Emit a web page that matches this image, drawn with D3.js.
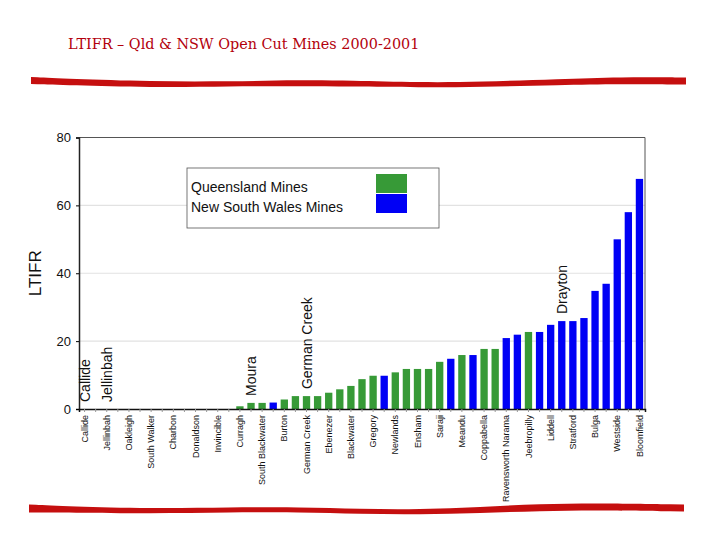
<!DOCTYPE html>
<html>
<head>
<meta charset="utf-8">
<script src="https://cdn.jsdelivr.net/npm/d3@7"></script>
<style>
  body { margin: 0; background: #fff; }
  svg { display: block; }
</style>
</head>
<body>
<script>
// LTIFR per mine, sorted low to high (51 mines, only every second one is named on the axis)
var values = [0, 0, 0, 0, 0, 0, 0, 0, 0, 0, 0, 0, 0, 0,
  0.8, 1.8, 1.8, 1.9, 2.8, 3.8, 3.8, 3.8, 4.8, 5.8, 6.8, 8.8, 9.8, 9.8,
  10.8, 11.8, 11.8, 11.8, 13.9, 14.8, 15.9, 15.9, 17.7, 17.7, 20.9, 21.9,
  22.7, 22.7, 24.8, 25.9, 25.9, 26.8, 34.8, 36.9, 50, 58, 67.8];
// Q = Queensland, N = New South Wales
var states = ["Q","Q","Q","Q","Q","Q","Q","Q","Q","Q","Q","Q","Q","Q",
  "Q","Q","Q","N","Q","Q","Q","Q","Q","Q","Q","Q","Q","N",
  "Q","Q","Q","Q","Q","N","Q","N","Q","Q","N","N",
  "Q","N","N","N","N","N","N","N","N","N","N"];
var tickLabels = ["Callide", "Jellinbah", "Oakleigh", "South Walker", "Charbon",
  "Donaldson", "Invincible", "Curragh", "South Blackwater", "Burton", "German Creek",
  "Ebenezer", "Blackwater", "Gregory", "Newlands", "Ensham", "Saraji", "Meandu",
  "Coppabella", "Ravensworth Narama", "Jeebropilly", "Liddell", "Stratford",
  "Bulga", "Westside", "Bloomfield"];
var yTicks = [0, 20, 40, 60, 80];
// names written inside the plot, next to their bar
var callouts = [
  {i: 0, name: "Callide"},
  {i: 2, name: "Jellinbah"},
  {i: 15, name: "Moura"},
  {i: 20, name: "German Creek"},
  {i: 43, name: "Drayton"}
];
var legendItems = [
  {name: "Queensland Mines", state: "Q"},
  {name: "New South Wales Mines", state: "N"}
];

(function() {
  var colors = {Q: "#379a37", N: "#0000f5"};

  var width = 720, height = 540;
  var plotLeft = 79, plotRight = 645, plotTop = 137.5, plotBottom = 409;

  var svg = d3.select("body").append("svg")
      .attr("width", width)
      .attr("height", height);

  // title
  svg.append("text")
      .attr("x", 68)
      .attr("y", 49)
      .attr("fill", "#b3000c")
      .style("font-family", "'DejaVu Serif', 'Liberation Serif', serif")
      .style("font-size", "14.4px")
      .text("LTIFR \u2013 Qld & NSW Open Cut Mines 2000-2001");

  // red brush strokes
  var stroke = d3.area()
      .x(function(d) { return d[0]; })
      .y0(function(d) { return d[1] - d[2] / 2; })
      .y1(function(d) { return d[1] + d[2] / 2; })
      .curve(d3.curveBasis);

  var topStroke = [[31, 80.5, 7], [70, 82, 6], [150, 84.5, 6], [230, 84, 5], [300, 83, 6],
    [350, 83.5, 6], [420, 85, 5], [480, 84.5, 5], [560, 82, 6], [620, 80.5, 7], [686, 81, 7]];
  var bottomStroke = [[29, 508.5, 8], [70, 509.5, 6], [150, 511, 5], [230, 510, 5], [300, 509.5, 5],
    [360, 511.5, 5], [420, 512, 5], [480, 510, 6], [540, 507.5, 7], [600, 506.5, 7], [684, 508, 7]];

  svg.append("path").attr("d", stroke(topStroke)).attr("fill", "#c50f0f");
  svg.append("path").attr("d", stroke(bottomStroke)).attr("fill", "#c50f0f");

  // scales
  var x = d3.scaleBand()
      .domain(d3.range(values.length))
      .range([plotLeft, plotRight])
      .paddingInner(0.34)
      .paddingOuter(0.17);

  var y = d3.scaleLinear()
      .domain([0, 80])
      .range([plotBottom, plotTop]);

  var g = svg.append("g");

  // grid
  g.selectAll("line.grid")
      .data(yTicks.filter(function(t) { return t > 0 && t < 80; }))
    .enter().append("line")
      .attr("class", "grid")
      .attr("x1", plotLeft).attr("x2", plotRight)
      .attr("y1", function(d) { return y(d); })
      .attr("y2", function(d) { return y(d); })
      .attr("stroke", "#e2e2e2")
      .attr("stroke-width", 1.2);

  // frame top and right
  g.append("path")
      .attr("d", "M" + plotLeft + "," + plotTop + "H" + plotRight + "V" + plotBottom)
      .attr("fill", "none")
      .attr("stroke", "#555")
      .attr("stroke-width", 1);

  // bars
  g.selectAll("rect.bar")
      .data(values)
    .enter().append("rect")
      .attr("class", "bar")
      .attr("x", function(d, i) { return x(i); })
      .attr("width", x.bandwidth())
      .attr("y", function(d) { return y(d); })
      .attr("height", function(d) { return y(0) - y(d); })
      .attr("fill", function(d, i) { return colors[states[i]]; });

  // y axis
  var yAxis = g.append("g")
      .attr("transform", "translate(" + plotLeft + ",0)")
      .call(d3.axisLeft(y).tickValues(yTicks).tickSize(3).tickPadding(5));
  yAxis.select(".domain").attr("stroke", "#222").attr("stroke-width", 1.5);
  yAxis.selectAll("text")
      .style("font-family", "'Liberation Sans', Arial, sans-serif")
      .style("font-size", "13px")
      .attr("fill", "#111");

  // x axis
  var xAxis = g.append("g")
      .attr("transform", "translate(0," + plotBottom + ")")
      .call(d3.axisBottom(x).tickSize(3).tickPadding(4)
        .tickFormat(function(i) { return i % 2 === 0 ? tickLabels[i / 2] : ""; }));
  xAxis.select(".domain").attr("stroke", "#111").attr("stroke-width", 1.5);
  xAxis.selectAll(".tick line").attr("stroke", "#999");
  xAxis.selectAll("text")
      .attr("transform", "rotate(-90)")
      .attr("x", -6)
      .attr("y", 0)
      .attr("dy", "0.35em")
      .style("text-anchor", "end")
      .style("font-family", "'Liberation Sans', Arial, sans-serif")
      .style("font-size", "9px")
      .attr("fill", "#111");

  // y title
  svg.append("text")
      .attr("transform", "translate(41," + ((plotTop + plotBottom) / 2) + ") rotate(-90)")
      .attr("text-anchor", "middle")
      .style("font-family", "'Liberation Sans', Arial, sans-serif")
      .style("font-size", "17px")
      .attr("fill", "#111")
      .text("LTIFR");

  // callouts
  g.selectAll("text.callout")
      .data(callouts)
    .enter().append("text")
      .attr("class", "callout")
      .attr("transform", function(d) {
        var cx = x(d.i) + x.bandwidth() / 2 + 5;
        var cy = y(values[d.i]) - 7;
        return "translate(" + cx + "," + cy + ") rotate(-90)";
      })
      .style("font-family", "'Liberation Sans', Arial, sans-serif")
      .style("font-size", "14px")
      .attr("fill", "#111")
      .text(function(d) { return d.name; });

  // legend
  var legend = g.append("g").attr("transform", "translate(187,168)");
  legend.append("rect")
      .attr("width", 252).attr("height", 60)
      .attr("fill", "#fff")
      .attr("stroke", "#555")
      .attr("stroke-width", 0.8);
  var item = legend.selectAll("g.item")
      .data(legendItems)
    .enter().append("g")
      .attr("class", "item")
      .attr("transform", function(d, i) { return "translate(0," + (i * 20) + ")"; });
  item.append("text")
      .attr("x", 4).attr("y", 24)
      .style("font-family", "'Liberation Sans', Arial, sans-serif")
      .style("font-size", "14px")
      .attr("fill", "#111")
      .text(function(d) { return d.name; });
  item.append("rect")
      .attr("x", 189).attr("y", 6)
      .attr("width", 31).attr("height", 19)
      .attr("fill", function(d) { return colors[d.state]; });
})();
</script>
</body>
</html>
